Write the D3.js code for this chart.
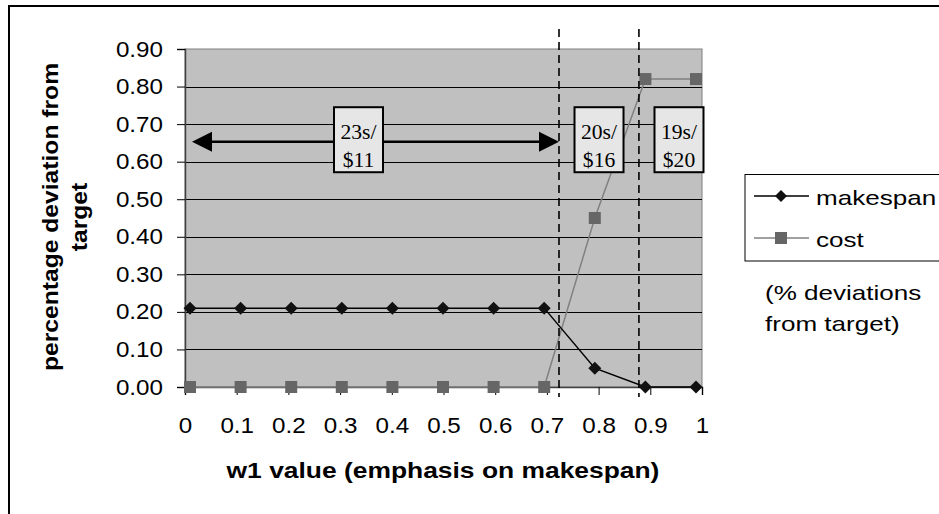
<!DOCTYPE html>
<html><head><meta charset="utf-8">
<script src="https://cdn.jsdelivr.net/npm/d3@7"></script>
<style>body{margin:0;background:#fff}svg{display:block}</style>
</head><body>
<svg id="c" width="939" height="514"></svg>
<script>
const w1 = [0,0.1,0.2,0.3,0.4,0.5,0.6,0.7,0.8,0.9,1];
const xTickLabels = ["0","0.1","0.2","0.3","0.4","0.5","0.6","0.7","0.8","0.9","1"];
const makespan = [0.21,0.21,0.21,0.21,0.21,0.21,0.21,0.21,0.05,0,0];
const cost = [0,0,0,0,0,0,0,0,0.45,0.82,0.82];
const yTicks = [0,0.1,0.2,0.3,0.4,0.5,0.6,0.7,0.8,0.9];
const boundaries = [0.7234,0.878];
const regionLabels = [["23s/","$11"],["20s/","$16"],["19s/","$20"]];
const regionCenters = [0.3356,0.8008,0.9555];
const arrowFrom = 0.0135, arrowTo = 0.7234, arrowY = 0.653;

const svg = d3.select("#c");
const L=185,R=702,T=49,B=387;
const x = d3.scaleLinear().domain([0,1]).range([L,R]);
const xm = d3.scaleLinear().domain([0,1]).range([190,696]);
const y = d3.scaleLinear().domain([0,0.9]).range([B,T]);

function stretch(sel,f){
  sel.each(function(){
    const len=this.getComputedTextLength();
    d3.select(this).attr("textLength",len*f).attr("lengthAdjust","spacingAndGlyphs");
  });
}

// outer frame
svg.append("rect").attr("x",9).attr("y",6).attr("width",960).attr("height",540)
  .attr("fill","none").attr("stroke","#000").attr("stroke-width",2);

// plot area
svg.append("rect").attr("x",L).attr("y",T).attr("width",R-L).attr("height",B-T)
  .attr("fill","#c0c0c0").attr("stroke","#808080").attr("stroke-width",1);
svg.append("g").selectAll("line").data(yTicks.filter(d=>d>0&&d<0.9)).join("line")
  .attr("x1",L).attr("x2",R).attr("y1",d=>Math.round(y(d))+0.5).attr("y2",d=>Math.round(y(d))+0.5)
  .attr("stroke","#000").attr("stroke-width",1);

// axes
const font = "Arial, 'Liberation Sans', sans-serif";
const ya = svg.append("g").attr("transform",`translate(${L},0)`)
  .call(d3.axisLeft(y).tickValues(yTicks).tickFormat(d3.format(".2f")).tickSize(8).tickPadding(14));
ya.select(".domain").attr("stroke","#404040").attr("stroke-width",1.5);
ya.selectAll(".tick line").attr("stroke","#000");
ya.selectAll("text").attr("font-family",font).attr("font-size",22).attr("fill","#000");
stretch(ya.selectAll("text"),1.1);
const xa = svg.append("g").attr("transform",`translate(0,${B})`)
  .call(d3.axisBottom(x).tickValues(w1).tickFormat((d,i)=>xTickLabels[i]).tickSize(8).tickPadding(22));
xa.select(".domain").attr("stroke","#404040").attr("stroke-width",1.5);
xa.selectAll(".tick line").attr("stroke","#000");
xa.selectAll("text").attr("font-family",font).attr("font-size",22).attr("fill","#000");
stretch(xa.selectAll("text"),1.1);

// titles
const xt = svg.append("text").attr("x",443).attr("y",478).attr("text-anchor","middle")
  .attr("font-family",font).attr("font-weight","bold").attr("font-size",22).text("w1 value (emphasis on makespan)");
stretch(xt,1.2);
const yt1 = svg.append("text").attr("transform","translate(58,217) rotate(-90)")
  .attr("text-anchor","middle").attr("font-family",font).attr("font-weight","bold").attr("font-size",22)
  .text("percentage deviation from");
const yt2 = svg.append("text").attr("transform","translate(87,217) rotate(-90)")
  .attr("text-anchor","middle").attr("font-family",font).attr("font-weight","bold").attr("font-size",22)
  .text("target");
stretch(yt1,1.12); stretch(yt2,1.12);

// series
const lineM = d3.line().x((d,i)=>xm(w1[i])).y(d=>y(d));
svg.append("path").attr("d",lineM(cost)).attr("fill","none").attr("stroke","#808080").attr("stroke-width",1.5);
svg.append("path").attr("d",lineM(makespan)).attr("fill","none").attr("stroke","#000").attr("stroke-width",1.5);
svg.append("g").selectAll("rect").data(cost).join("rect")
  .attr("x",(d,i)=>xm(w1[i])-6).attr("y",d=>y(d)-6).attr("width",12).attr("height",12).attr("fill","#666666");
svg.append("g").selectAll("path").data(makespan).join("path")
  .attr("transform",(d,i)=>`translate(${xm(w1[i])},${y(d)})`)
  .attr("d","M0,-6.5L6.5,0L0,6.5L-6.5,0Z").attr("fill","#111");

// dashed boundaries
svg.append("g").selectAll("line").data(boundaries).join("line")
  .attr("x1",d=>x(d)).attr("x2",d=>x(d)).attr("y1",29).attr("y2",397)
  .attr("stroke","#000").attr("stroke-width",1.6).attr("stroke-dasharray","8,5");

// double arrow
const ay = y(arrowY);
const ax1 = x(arrowFrom), ax2 = x(arrowTo);
svg.append("line").attr("x1",ax1+18).attr("x2",ax2-18).attr("y1",ay).attr("y2",ay).attr("stroke","#000").attr("stroke-width",2.5);
svg.append("path").attr("d",`M${ax1},${ay}L${ax1+20},${ay-10}L${ax1+20},${ay+10}Z`).attr("fill","#000");
svg.append("path").attr("d",`M${ax2},${ay}L${ax2-20},${ay-10}L${ax2-20},${ay+10}Z`).attr("fill","#000");

// label boxes
const boxTop = y(0.745);
const boxes = svg.append("g").selectAll("g").data(regionLabels).join("g")
  .attr("transform",(d,i)=>`translate(${x(regionCenters[i])},${boxTop})`);
boxes.append("rect").attr("x",-24.5).attr("y",0).attr("width",49).attr("height",65)
  .attr("fill","#e6e6e6").attr("stroke","#000").attr("stroke-width",2);
boxes.each(function(d){
  const g=d3.select(this);
  d.forEach((s,i)=>{
    const t=g.append("text").attr("x",0).attr("y",i===0?32:60).attr("text-anchor","middle")
      .attr("font-family","'Liberation Serif','Times New Roman',serif").attr("font-size",20).attr("fill","#000").text(s);
    stretch(t,1.08);
  });
});

// legend
svg.append("rect").attr("x",745).attr("y",174.5).attr("width",220).attr("height",86.5)
  .attr("fill","#fff").attr("stroke","#000").attr("stroke-width",1);
const leg = [{name:"makespan",c:"#000",mk:"d"},{name:"cost",c:"#808080",mk:"s"}];
const lg = svg.append("g").selectAll("g").data(leg).join("g").attr("transform",(d,i)=>`translate(0,${196+i*42})`);
lg.append("line").attr("x1",754).attr("x2",809).attr("y1",0).attr("y2",0).attr("stroke",d=>d.c).attr("stroke-width",1.5);
lg.each(function(d){
  const g=d3.select(this);
  if(d.mk==="d") g.append("path").attr("d","M781,-6L787,0L781,6L775,0Z").attr("fill","#111");
  else g.append("rect").attr("x",775).attr("y",-6).attr("width",12).attr("height",12).attr("fill","#666666");
});
const lt = lg.append("text").attr("x",816).attr("y",9).attr("font-family",font).attr("font-size",21).text(d=>d.name);
stretch(lt,1.24);
const n1 = svg.append("text").attr("x",765).attr("y",300).attr("font-family",font).attr("font-size",21).text("(% deviations");
const n2 = svg.append("text").attr("x",765).attr("y",331).attr("font-family",font).attr("font-size",21).text("from target)");
stretch(n1,1.24); stretch(n2,1.24);
</script>
</body></html>
